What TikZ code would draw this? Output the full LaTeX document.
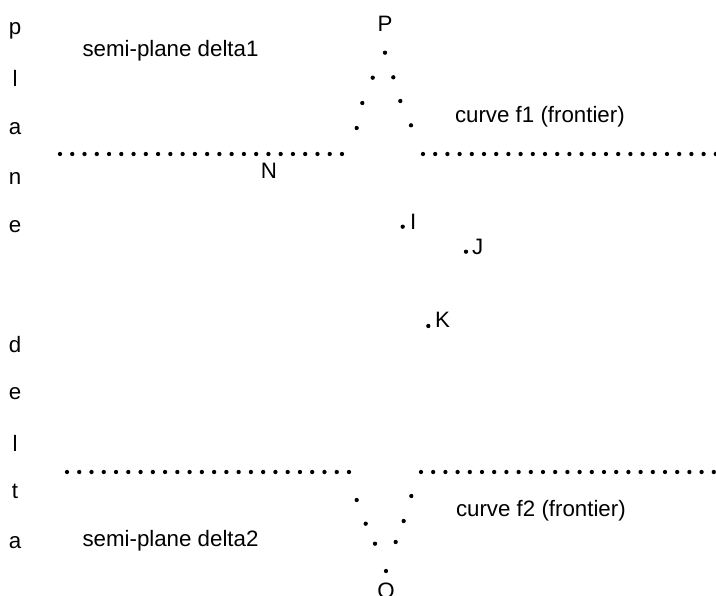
\documentclass[tikz,border=0pt]{standalone}
\usepackage{fontspec}
\setmainfont{Liberation Sans}
\begin{document}
\begin{tikzpicture}[x=1pt,y=-1pt,
  lbl/.style={inner sep=0pt, outer sep=0pt, font=\fontsize{22.3}{26}\selectfont},
  pt/.style={circle, fill=black, inner sep=0pt, minimum size=4.3pt}]
\useasboundingbox[fill=white] (0,0) rectangle (716,596);
% vertical word
\foreach \c/\y [count=\k] in {p/35,l/87,a/135,n/185,e/233,d/353,e/400,l/452,t/499,a/548}
  \node[lbl, anchor=base] (v\k) at (15,\y) {\c};
% region labels
\node[lbl, anchor=base west] (d1) at (82.5,57) {semi-plane delta1};
\node[lbl, anchor=base west] (d2) at (82.5,547) {semi-plane delta2};
\node[lbl, anchor=base west] (f1) at (455,123) {curve f1 (frontier)};
\node[lbl, anchor=base west] (f2) at (456,517) {curve f2 (frontier)};
% frontier f1 (dotted)
\foreach \i in {0,...,23} \fill (60+12.26*\i,154) circle (2.15pt);
\foreach \i in {0,...,24} \fill (423+12.2*\i,154) circle (2.15pt);
\foreach \p in {(385,52.7),(372.7,77.7),(393.3,77.3),(362.3,103),(400.3,101),(356.7,128),(411,125.3)}
  \fill \p circle (2.15pt);
% frontier f2 (dotted)
\foreach \i in {0,...,23} \fill (67+12.26*\i,472) circle (2.15pt);
\foreach \i in {0,...,24} \fill (421+12.2*\i,472) circle (2.15pt);
\foreach \p in {(356.7,500),(411.3,496),(365.7,523.7),(403.7,521),(375,543.7),(395.7,542),(386,571)}
  \fill \p circle (2.15pt);
% point labels
\node[lbl, anchor=base] (P) at (385,31.5) {P};
\node[lbl, anchor=base] (Q) at (386,598) {Q};
\node[lbl, anchor=base] (N) at (269,179) {N};
\node[pt] (iI) at (402.7,226.7) {};
\node[lbl, anchor=base west] (I) at (410,230) {I};
\node[pt] (iJ) at (466,251.7) {};
\node[lbl, anchor=base west] (J) at (472,255) {J};
\node[pt] (iK) at (428.3,326) {};
\node[lbl, anchor=base west] (K) at (435,328) {K};
\end{tikzpicture}
\end{document}
